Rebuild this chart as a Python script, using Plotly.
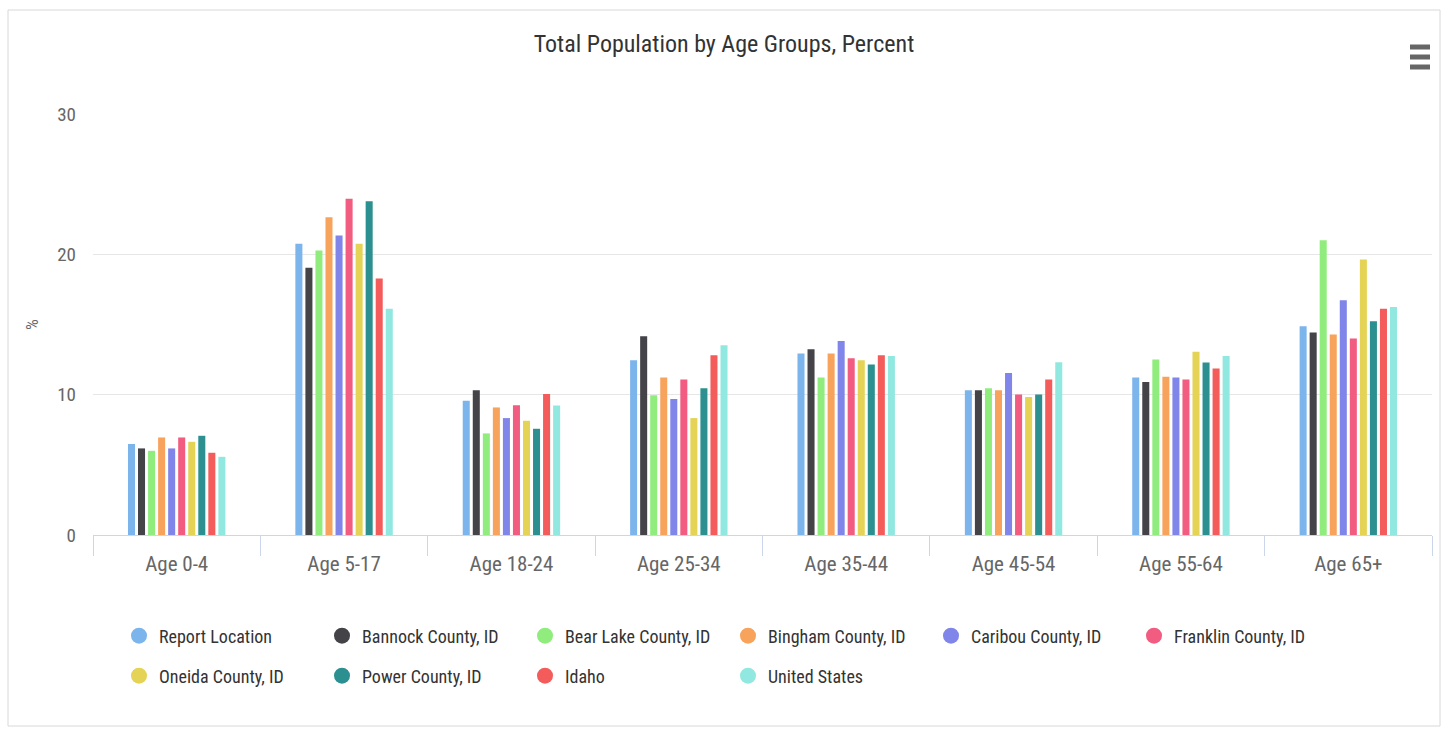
import plotly.graph_objects as go

categories = ["Age 0-4", "Age 5-17", "Age 18-24", "Age 25-34", "Age 35-44", "Age 45-54", "Age 55-64", "Age 65+"]

series_names = ["Report Location", "Bannock County, ID", "Bear Lake County, ID", "Bingham County, ID",
                "Caribou County, ID", "Franklin County, ID", "Oneida County, ID", "Power County, ID",
                "Idaho", "United States"]

report_location = [6.48, 20.76, 9.56, 12.46, 12.93, 10.32, 11.22, 14.88]
bannock = [6.17, 19.05, 10.32, 14.16, 13.24, 10.32, 10.91, 14.43]
bear_lake = [6.00, 20.28, 7.24, 9.96, 11.22, 10.46, 12.50, 21.00]
bingham = [6.95, 22.65, 9.09, 11.22, 12.93, 10.32, 11.27, 14.28]
caribou = [6.17, 21.35, 8.33, 9.70, 13.83, 11.55, 11.22, 16.73]
franklin = [6.95, 23.96, 9.25, 11.08, 12.60, 10.01, 11.08, 14.00]
oneida = [6.64, 20.76, 8.14, 8.33, 12.46, 9.84, 13.05, 19.64]
power = [7.07, 23.79, 7.57, 10.46, 12.15, 10.01, 12.29, 15.23]
idaho = [5.86, 18.27, 10.04, 12.81, 12.81, 11.08, 11.86, 16.13]
united_states = [5.57, 16.13, 9.23, 13.52, 12.76, 12.31, 12.76, 16.25]

series_values = [report_location, bannock, bear_lake, bingham, caribou, franklin,
                 oneida, power, idaho, united_states]

colors = ["#7cb5ec", "#434348", "#90ed7d", "#f7a35c", "#8085e9", "#f15c80",
          "#e4d354", "#2b908f", "#f45b5b", "#91e8e1"]

FONT = "Liberation Sans Narrow, Roboto Condensed, Open Sans, sans-serif"

fig = go.Figure()
for name, vals, col in zip(series_names, series_values, colors):
    fig.add_trace(go.Bar(name=name, x=categories, y=vals, marker_color=col,
                         marker_line_width=0, showlegend=False, legendgroup=name))

for i, (name, col) in enumerate(zip(series_names, colors)):
    fig.add_trace(go.Scatter(name=name, x=[None], y=[None], mode="markers",
                             marker=dict(color=col, size=16, symbol="circle"),
                             legendgroup=name, showlegend=True,
                             legend="legend" if i < 6 else "legend2"))

W, H = 1448, 733
L, R, T, B = 93, 16, 114, 198
pw, ph = W - L - R, H - T - B

def px(x):
    return (x - L) / pw

def py(y):
    return (H - B - y) / ph

shapes = [
    dict(type="rect", xref="paper", yref="paper", x0=px(8), x1=px(1440), y0=py(726), y1=py(10),
         line=dict(color="#d8d8d8", width=1), fillcolor="rgba(0,0,0,0)", layer="below"),
]
for yy in (47, 57, 67):
    shapes.append(dict(type="line", xref="paper", yref="paper", x0=px(1410), x1=px(1430),
                       y0=py(yy), y1=py(yy), line=dict(color="#666666", width=5)))

legend_common = dict(orientation="h", xanchor="left", yanchor="middle", entrywidth=158,
                     entrywidthmode="pixels", font=dict(family=FONT, size=18, color="#333333"),
                     itemsizing="trace", bgcolor="rgba(0,0,0,0)")

fig.update_layout(
    width=W, height=H,
    margin=dict(l=L, r=R, t=T, b=B),
    paper_bgcolor="white", plot_bgcolor="white",
    barmode="group", bargap=0.4, bargroupgap=0.3,
    title=dict(text="Total Population by Age Groups, Percent", x=0.5, xref="container",
               y=1 - 44 / H, yref="container", xanchor="center", yanchor="middle",
               font=dict(family=FONT, size=24, color="#333333")),
    xaxis=dict(type="category", showgrid=False, showline=True, linecolor="#ccd6eb",
               ticks="outside", tickson="boundaries", tickcolor="#ccd6eb", ticklen=20,
               ticklabelstandoff=10,
               tickfont=dict(family=FONT, size=21, color="#666666")),
    yaxis=dict(range=[0, 30], tickvals=[0, 10, 20, 30], showgrid=True, gridcolor="#e6e6e6",
               zeroline=False, showline=False, ticks="", ticklabelstandoff=16,
               tickfont=dict(family=FONT, size=19, color="#666666"),
               title=dict(text="%", font=dict(family=FONT, size=17, color="#666666"), standoff=14)),
    legend=dict(x=px(119), y=py(636), **legend_common),
    legend2=dict(x=px(119), y=py(676), **legend_common),
    shapes=shapes,
    font=dict(family=FONT),
)

fig.write_html("out.html", config={"displayModeBar": False},
               post_script="document.body.style.margin='0';")
